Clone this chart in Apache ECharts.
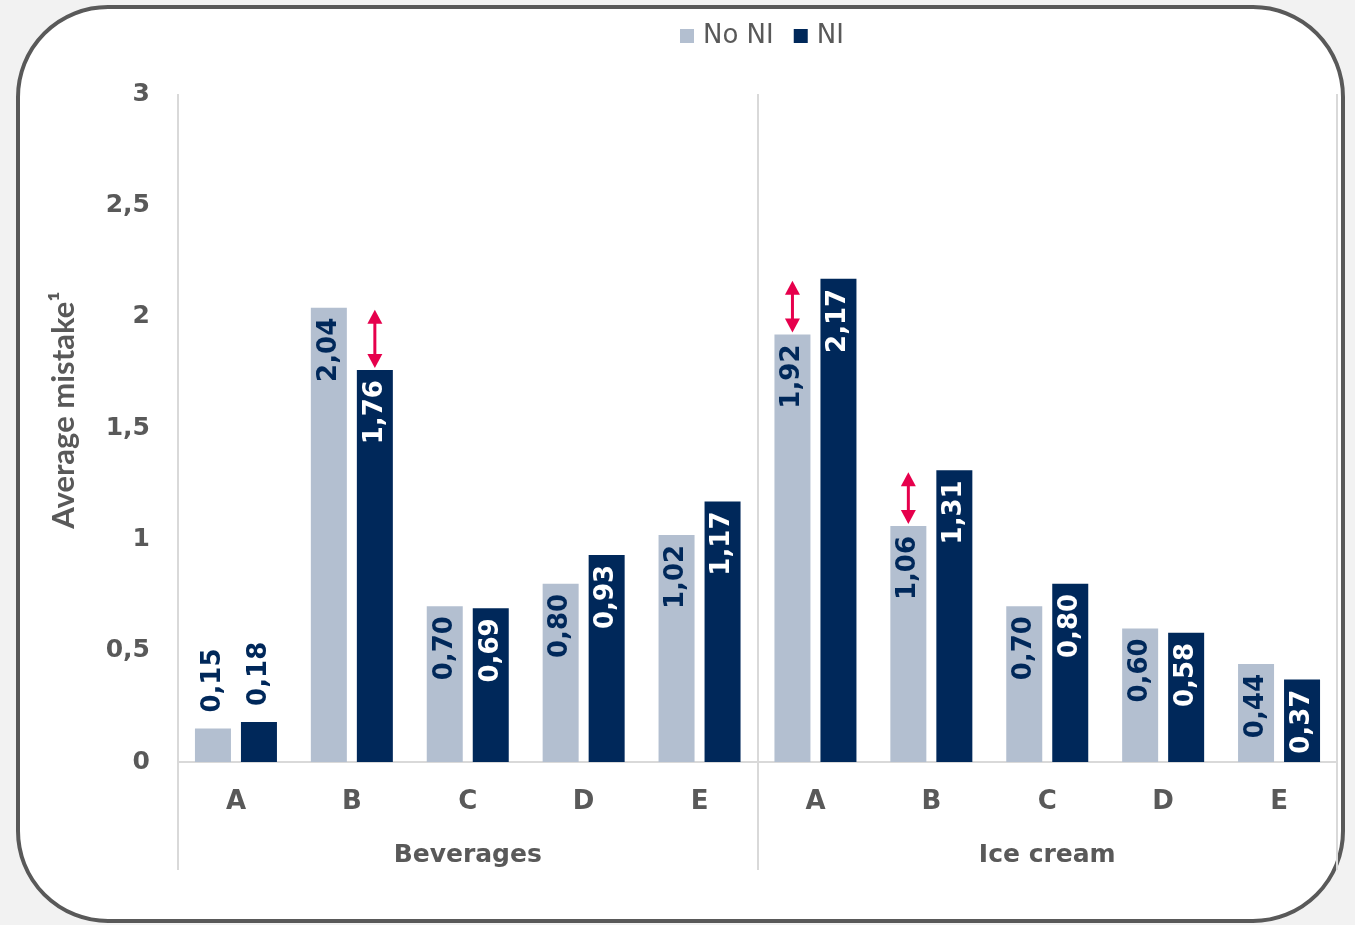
<!DOCTYPE html>
<html>
<head>
<meta charset="utf-8">
<title>Average mistake by product</title>
<script src="https://cdn.jsdelivr.net/npm/echarts@6/dist/echarts.min.js"></script>
<style>
  html, body { margin: 0; padding: 0; background: #f2f2f2; }
  #chart { width: 1355px; height: 925px; }
</style>
</head>
<body>
<div id="chart"></div>
<script>
// Product groups and items within each group
var groups = ['Beverages', 'Ice cream'];
var items = ['A', 'B', 'C', 'D', 'E'];

// Average mistake per item, by condition
var bevNoNI = [0.15, 2.04, 0.70, 0.80, 1.02];
var bevNI   = [0.18, 1.76, 0.69, 0.93, 1.17];
var iceNoNI = [1.92, 1.06, 0.70, 0.60, 0.44];
var iceNI   = [2.17, 1.31, 0.80, 0.58, 0.37];

// Y axis ticks
var yMin = 0, yMax = 3, yStep = 0.5;

// Highlighted gaps: [category index across both groups, bar that carries the arrow]
var arrowMarks = [[1, 'NI'], [5, 'No NI'], [6, 'No NI']];

var LIGHT = '#b3bfd0';
var DARK = '#00285a';
var GREY_TEXT = '#595959';
var LINE = '#d9d9d9';
var ARROW = '#e6004c';
var BAR_W = 36;
var BAR_GAP_PX = 10;
var FONT = 'DejaVu Sans';

var categories = items.concat(items);
var noNI = bevNoNI.concat(iceNoNI);
var withNI = bevNI.concat(iceNI);

function fmt(v) { return v.toFixed(2).replace('.', ','); }

// Short bars cannot hold their label, so those labels sit above the bar
function barData(values, insideColor) {
  return values.map(function (v) {
    if (v < 0.3) {
      return {
        value: v,
        label: { position: 'top', align: 'left', distance: 16, color: DARK }
      };
    }
    return { value: v, label: { color: insideColor } };
  });
}

var arrowData = arrowMarks.map(function (m) {
  var i = m[0];
  var onNI = m[1] === 'NI';
  var from = onNI ? withNI[i] : noNI[i];
  var to = onNI ? noNI[i] : withNI[i];
  return [i, from, to, onNI ? 1 : -1];
});

var chart = echarts.init(document.getElementById('chart'), null, { renderer: 'canvas' });

var labelBase = {
  show: true,
  rotate: 90,
  position: 'insideTop',
  align: 'right',
  verticalAlign: 'middle',
  distance: 10,
  fontFamily: FONT,
  fontWeight: 'bold',
  fontSize: 26,
  formatter: function (p) { return fmt(p.value); }
};

chart.setOption({
  backgroundColor: '#f2f2f2',
  animation: false,
  graphic: {
    elements: [{
      type: 'rect',
      z: -10,
      silent: true,
      shape: { x: 18, y: 7, width: 1325, height: 914, r: 90 },
      style: { fill: '#ffffff', stroke: '#595959', lineWidth: 4 }
    }]
  },
  legend: {
    top: 18,
    left: 675,
    itemWidth: 14,
    itemHeight: 14,
    itemGap: 20,
    icon: 'rect',
    textStyle: { fontFamily: FONT, fontSize: 26, color: GREY_TEXT, padding: [0, 0, 0, 4] },
    data: ['No NI', 'NI']
  },
  grid: { left: 178, right: 18, top: 94, bottom: 163, containLabel: false },
  xAxis: [
    {
      type: 'category',
      data: categories,
      position: 'bottom',
      axisLine: { show: true, lineStyle: { color: LINE, width: 2 } },
      axisTick: { show: false },
      axisLabel: {
        interval: 0,
        margin: 27,
        fontFamily: FONT,
        fontWeight: 'bold',
        fontSize: 26,
        color: GREY_TEXT
      },
      splitLine: { show: false }
    },
    {
      type: 'category',
      data: groups,
      position: 'bottom',
      axisLine: { show: false },
      axisTick: { show: true, length: 108, lineStyle: { color: LINE, width: 2 } },
      axisLabel: {
        interval: 0,
        margin: 81,
        fontFamily: FONT,
        fontWeight: 'bold',
        fontSize: 25,
        color: GREY_TEXT
      },
      splitLine: { show: true, lineStyle: { color: LINE, width: 2 } }
    }
  ],
  yAxis: {
    type: 'value',
    min: yMin,
    max: yMax,
    interval: yStep,
    name: 'Average mistake\u00b9',
    nameLocation: 'middle',
    nameRotate: 90,
    nameGap: 99,
    nameTextStyle: {
      fontFamily: 'Lato', fontWeight: 'bold', fontSize: 31, color: GREY_TEXT,
      padding: [0, 0, 0, 36]
    },
    axisLine: { show: false },
    axisTick: { show: false },
    splitLine: { show: false },
    axisLabel: {
      margin: 28,
      fontFamily: FONT,
      fontWeight: 'bold',
      fontSize: 25,
      color: GREY_TEXT,
      formatter: function (v) { return String(v).replace('.', ','); }
    }
  },
  series: [
    {
      name: 'No NI',
      type: 'bar',
      xAxisIndex: 0,
      barWidth: BAR_W,
      barGap: (BAR_GAP_PX / BAR_W * 100) + '%',
      itemStyle: { color: LIGHT },
      label: labelBase,
      data: barData(noNI, DARK)
    },
    {
      name: 'NI',
      type: 'bar',
      xAxisIndex: 0,
      barWidth: BAR_W,
      barGap: (BAR_GAP_PX / BAR_W * 100) + '%',
      itemStyle: { color: DARK },
      label: labelBase,
      data: barData(withNI, '#ffffff')
    },
    {
      name: 'gap',
      type: 'custom',
      xAxisIndex: 0,
      silent: true,
      z: 5,
      data: arrowData,
      renderItem: function (params, api) {
        var cat = api.value(0);
        var side = api.value(3);
        var a = api.coord([cat, api.value(1)]);
        var b = api.coord([cat, api.value(2)]);
        var x = a[0] + side * (BAR_W + BAR_GAP_PX) / 2;
        var yTop = Math.min(a[1], b[1]) + 2;
        var yBot = Math.max(a[1], b[1]) - 2;
        var hw = 7.5, hh = 14;
        return {
          type: 'group',
          children: [
            {
              type: 'line',
              shape: { x1: x, y1: yTop + hh - 1, x2: x, y2: yBot - hh + 1 },
              style: { stroke: ARROW, lineWidth: 3 }
            },
            {
              type: 'polygon',
              shape: { points: [[x, yTop], [x - hw, yTop + hh], [x + hw, yTop + hh]] },
              style: { fill: ARROW }
            },
            {
              type: 'polygon',
              shape: { points: [[x, yBot], [x - hw, yBot - hh], [x + hw, yBot - hh]] },
              style: { fill: ARROW }
            }
          ]
        };
      }
    }
  ]
});
</script>
</body>
</html>
